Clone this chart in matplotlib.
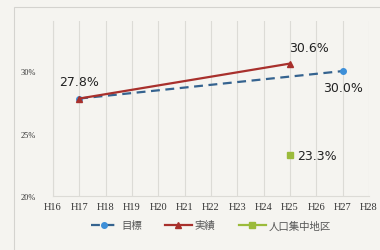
import matplotlib.pyplot as plt
import matplotlib.patches as patches
import numpy as np

plt.rcParams['font.family'] = ['Noto Sans CJK JP', 'DejaVu Sans']

# data
years = ['H16', 'H17', 'H18', 'H19', 'H20', 'H21', 'H22',
         'H23', 'H24', 'H25', 'H26', 'H27', 'H28']
target = [np.nan, 27.8, np.nan, np.nan, np.nan, np.nan, np.nan,
          np.nan, np.nan, np.nan, np.nan, 30.0, np.nan]
actual = [np.nan, 27.8, np.nan, np.nan, np.nan, np.nan, np.nan,
          np.nan, np.nan, 30.6, np.nan, np.nan, np.nan]
did = [np.nan, np.nan, np.nan, np.nan, np.nan, np.nan, np.nan,
       np.nan, np.nan, 23.3, np.nan, np.nan, np.nan]
yticks = [20, 25, 30]

bg = '#f5f4f0'
fig = plt.figure(figsize=(3.8, 2.51), dpi=100, facecolor=bg)
# outer chart frame
fig.patches.append(patches.Rectangle((14 / 380, -0.02), 1, 0.99,
                                     transform=fig.transFigure,
                                     fill=False, ec='#d4d3cf', lw=0.8))

ax = fig.add_axes([0.139, 0.215, 0.832, 0.697])
ax.set_facecolor(bg)

x = np.arange(len(years))


def connected(vals):
    v = np.array(vals, dtype=float)
    m = ~np.isnan(v)
    return x[m], v[m]


tx, ty = connected(target)
ax.plot(tx, ty, ls=(0, (4, 2.5)), color='#35638f', lw=1.6,
        marker='o', ms=4, mfc='#3d8fd8', mec='#3d8fd8', label='目標')
axx, axy = connected(actual)
ax.plot(axx, axy, ls='-', color='#a8302c', lw=1.6,
        marker='^', ms=4, mfc='#a8302c', mec='#a8302c', label='実績')
dx, dy = connected(did)
ax.plot(dx, dy, ls='-', color='#9bbb3b', lw=1.6, marker='s', ms=4,
        mfc='#9bbb3b', mec='#9bbb3b', label='人口集中地区')

# data labels
lab = dict(textcoords='offset points', fontsize=9, family='DejaVu Sans',
           color='#222222')
ax.annotate('27.8%', (1, 27.8), xytext=(0, 10), ha='center', **lab)
ax.annotate('30.6%', (9, 30.6), xytext=(14, 9), ha='center', **lab)
ax.annotate('30.0%', (11, 30.0), xytext=(0, -14), ha='center', **lab)
ax.annotate('23.3%', (9, 23.3), xytext=(5, -3), ha='left', **lab)

ax.set_xlim(0, len(years) - 1)
ax.set_ylim(20, 34)
ax.set_xticks(x)
ax.set_xticklabels(years, fontsize=7.5, family='Liberation Serif',
                   color='#333333')
ax.set_yticks(yticks)
ax.set_yticklabels([f'{t}%' for t in yticks], fontsize=6,
                   family='Liberation Serif', color='#333333')
ax.tick_params(length=0, pad=4)
ax.tick_params(axis='y', pad=12)
ax.grid(axis='x', color='#dcdbd6', lw=0.8)
for s in ['top', 'right']:
    ax.spines[s].set_visible(False)
ax.spines['left'].set_color('#dcdbd6')
ax.spines['bottom'].set_color('#dcdbd6')

ax.legend(loc='upper center', bbox_to_anchor=(0.5, -0.085), ncol=3,
          frameon=False, fontsize=7.5, handlelength=2.6, columnspacing=2.2,
          handletextpad=0.3, labelcolor='#555555')

fig.savefig('out.png', dpi=100, facecolor=bg)
